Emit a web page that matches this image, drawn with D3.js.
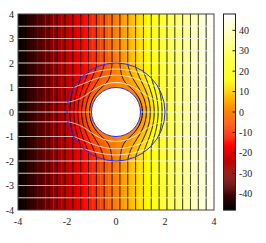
<!DOCTYPE html>
<meta charset="utf-8">
<script src="https://d3js.org/d3.v7.min.js"></script>
<style>
  body { margin: 0; background: #fff; }
  text { font-family: "Liberation Serif", "Times New Roman", serif; font-size: 10px; fill: #222; }
</style>
<div id="chart"></div>
<script>
  // axis + colour bar values
  var xDomain = [-4, 4];
  var yDomain = [-4, 4];
  var phiRange = [-48, 48];
  var xTicks = [-4, -2, 0, 2, 4];
  var yTicks = [-4, -3, -2, -1, 0, 1, 2, 3, 4];
  var cbarTicks = [-40, -30, -20, -10, 0, 10, 20, 30, 40];

  // potential phi = gain * x (virtual space), contour levels of phi
  var fieldGain = 12;
  var contourLevels = [-44.16, -40.32, -36.48, -32.64, -28.8, -24.96, -21.12, -17.28,
                       -13.44, -9.6, -5.76, -1.92, 1.92, 5.76, 9.6, 13.44,
                       17.28, 21.12, 24.96, 28.8, 32.64, 36.48, 40.32, 44.16];
  // streamlines: virtual heights
  var streamY = [-3.5, -3, -2.5, -2, -1.5, -1, -0.4, 0, 0.4, 1, 1.5, 2, 2.5, 3, 3.5];
  // cloak shell radii (inner, outer)
  var cloakRadii = [1, 2];
  // data grid cell size
  var cellSize = 0.16;

  var margin = {top: 14, left: 18},
      width = 196, height = 196;

  var svg = d3.select("#chart").append("svg")
      .attr("width", 266).attr("height", 243);

  var x = d3.scaleLinear().domain(xDomain).range([margin.left, margin.left + width]);
  var y = d3.scaleLinear().domain(yDomain).range([margin.top + height, margin.top]);

  // black-red-yellow-white palette
  var color = d3.scaleLinear()
    .domain([-48, -16, 16, 48])
    .range(["#000000", "#ff0000", "#ffff00", "#ffffff"])
    .clamp(true);

  var R1 = cloakRadii[0], R2 = cloakRadii[1];

  // virtual -> physical (radial compression into the shell)
  function cloak(p) {
    var r = Math.hypot(p[0], p[1]);
    if (r >= R2) return p;
    if (r < 1e-9) return null;
    var rp = R1 + r * (R2 - R1) / R2;
    return [p[0] / r * rp, p[1] / r * rp];
  }

  svg.append("clipPath").attr("id", "clip")
    .append("rect")
      .attr("x", margin.left).attr("y", margin.top)
      .attr("width", width).attr("height", height);

  var plot = svg.append("g").attr("clip-path", "url(#clip)");

  // grid edges
  var edges = d3.range(0, 51).map(function(i) { return xDomain[0] + i * cellSize; });

  // columns (outside the shell the field does not depend on y)
  plot.selectAll("rect.col")
    .data(d3.pairs(edges))
    .enter().append("rect")
      .attr("x", function(d) { return x(d[0]); })
      .attr("y", y(yDomain[1]))
      .attr("width", function(d) { return x(d[1]) - x(d[0]) + 0.3; })
      .attr("height", height)
      .attr("fill", function(d) { return color(fieldGain * (d[0] + d[1]) / 2); });

  // cells inside the virtual disk, mapped into the shell
  var cells = [];
  d3.pairs(edges).forEach(function(cx) {
    d3.pairs(edges).forEach(function(cy) {
      var mx = (cx[0] + cx[1]) / 2, my = (cy[0] + cy[1]) / 2;
      if (Math.hypot(mx, my) < R2 + 0.2) cells.push({x0: cx[0], x1: cx[1], y0: cy[0], y1: cy[1], v: fieldGain * mx});
    });
  });

  function cellPoly(c) {
    var pts = [], n = 4, k;
    for (k = 0; k < n; k++) pts.push([c.x0 + (c.x1 - c.x0) * k / n, c.y0]);
    for (k = 0; k < n; k++) pts.push([c.x1, c.y0 + (c.y1 - c.y0) * k / n]);
    for (k = 0; k < n; k++) pts.push([c.x1 - (c.x1 - c.x0) * k / n, c.y1]);
    for (k = 0; k < n; k++) pts.push([c.x0, c.y1 - (c.y1 - c.y0) * k / n]);
    return pts.map(cloak).filter(function(p) { return p; });
  }

  var poly = d3.line()
    .x(function(p) { return x(p[0]); })
    .y(function(p) { return y(p[1]); })
    .curve(d3.curveLinearClosed);

  plot.selectAll("path.cell")
    .data(cells)
    .enter().append("path")
      .attr("d", function(c) { return poly(cellPoly(c)); })
      .attr("fill", function(c) { return color(c.v); })
      .attr("stroke", function(c) { return color(c.v); })
      .attr("stroke-width", 0.4);

  // mapped lines, split where the map jumps across the hole
  function mappedSegments(pts) {
    var segs = [], cur = [];
    pts.map(cloak).forEach(function(p) {
      if (!p) { if (cur.length > 1) segs.push(cur); cur = []; return; }
      var last = cur[cur.length - 1];
      if (last && Math.hypot(p[0] - last[0], p[1] - last[1]) > 0.3) {
        if (cur.length > 1) segs.push(cur);
        cur = [];
      }
      cur.push(p);
    });
    if (cur.length > 1) segs.push(cur);
    return segs;
  }

  var line = d3.line()
    .x(function(p) { return x(p[0]); })
    .y(function(p) { return y(p[1]); });

  var samples = d3.range(0, 401).map(function(i) { return -4 + i * 0.02; });

  // equipotential lines
  var eqSegs = [];
  contourLevels.forEach(function(lv) {
    var x0 = lv / fieldGain;
    eqSegs = eqSegs.concat(mappedSegments(samples.map(function(t) { return [x0, t]; })));
  });
  plot.selectAll("path.eq")
    .data(eqSegs)
    .enter().append("path")
      .attr("d", line)
      .attr("fill", "none")
      .attr("stroke", "#000")
      .attr("stroke-width", 1);

  // streamlines
  var stSegs = [];
  streamY.forEach(function(y0) {
    var pts = samples.map(function(t) { return [t, y0]; });
    if (y0 === 0) pts = pts.filter(function(p) { return Math.abs(p[0]) > 0.01; });
    stSegs = stSegs.concat(mappedSegments(pts));
  });
  plot.selectAll("path.st")
    .data(stSegs)
    .enter().append("path")
      .attr("d", line)
      .attr("fill", "none")
      .attr("stroke", "#f4f4f4")
      .attr("stroke-width", 1);

  // hole and shell boundaries
  var cx0 = x(0), cy0 = y(0), unit = x(1) - x(0);
  plot.append("circle")
    .attr("cx", cx0).attr("cy", cy0).attr("r", R1 * unit)
    .attr("fill", "#fff");
  plot.selectAll("circle.shell")
    .data(cloakRadii)
    .enter().append("circle")
      .attr("cx", cx0).attr("cy", cy0)
      .attr("r", function(d) { return d * unit; })
      .attr("fill", "none")
      .attr("stroke", "#2a2aff")
      .attr("stroke-width", 1);

  // frame
  svg.append("rect")
    .attr("x", margin.left).attr("y", margin.top)
    .attr("width", width).attr("height", height)
    .attr("fill", "none").attr("stroke", "#444").attr("stroke-width", 1);

  // tick labels
  svg.selectAll("text.xt")
    .data(xTicks)
    .enter().append("text")
      .attr("x", function(d) { return x(d); })
      .attr("y", 225)
      .attr("text-anchor", "middle")
      .text(function(d) { return d; });

  svg.selectAll("text.yt")
    .data(yTicks)
    .enter().append("text")
      .attr("x", 14)
      .attr("y", function(d) { return y(d); })
      .attr("dy", "0.35em")
      .attr("text-anchor", "end")
      .text(function(d) { return d; });

  // colour bar
  var cb = {x: 223.5, w: 12};
  var c = d3.scaleLinear().domain(phiRange).range([margin.top + height, margin.top]);
  var steps = d3.range(0, 192).map(function(i) { return phiRange[0] + i * 0.5; });
  svg.selectAll("rect.cb")
    .data(steps)
    .enter().append("rect")
      .attr("x", cb.x)
      .attr("y", function(d) { return c(d + 0.5); })
      .attr("width", cb.w)
      .attr("height", function(d) { return c(d) - c(d + 0.5) + 0.3; })
      .attr("fill", function(d) { return color(d + 0.25); });

  svg.append("rect")
    .attr("x", cb.x).attr("y", margin.top)
    .attr("width", cb.w).attr("height", height)
    .attr("fill", "none").attr("stroke", "#222").attr("stroke-width", 1);

  svg.selectAll("line.cbt")
    .data(cbarTicks)
    .enter().append("line")
      .attr("x1", cb.x + cb.w - 3).attr("x2", cb.x + cb.w)
      .attr("y1", function(d) { return c(d); })
      .attr("y2", function(d) { return c(d); })
      .attr("stroke", "#222");

  svg.selectAll("text.cbl")
    .data(cbarTicks)
    .enter().append("text")
      .attr("x", 239)
      .attr("y", function(d) { return c(d); })
      .attr("dy", "0.35em")
      .text(function(d) { return d; });
</script>
